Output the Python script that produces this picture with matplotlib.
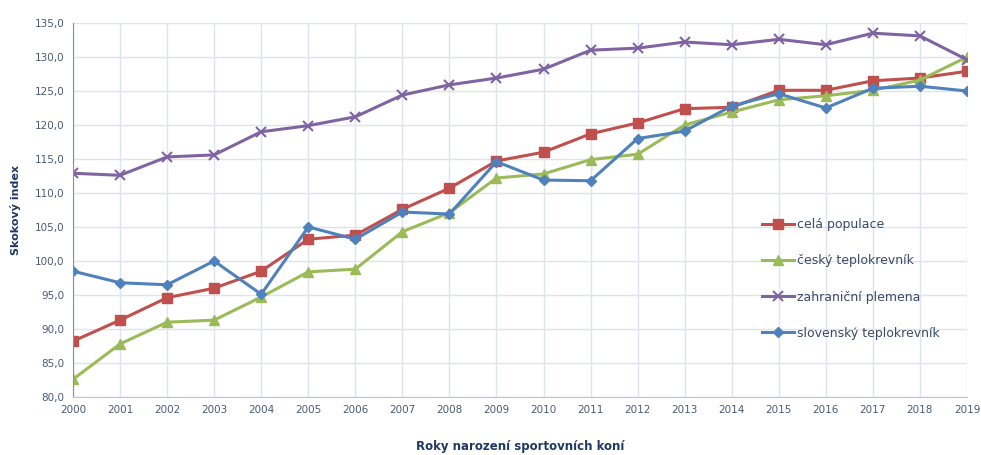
import numpy as np
import matplotlib.pyplot as plt
from matplotlib.ticker import FuncFormatter

# Data
years = list(range(2000, 2020))
cela_populace = [88.2, 91.3, 94.6, 96.0, 98.5, 103.2, 103.8, 107.6, 110.7, 114.7,
                 116.0, 118.7, 120.3, 122.4, 122.6, 125.1, 125.1, 126.5, 126.9, 127.9]
cesky_tk = [82.6, 87.8, 91.0, 91.3, 94.7, 98.4, 98.8, 104.3, 107.1, 112.2,
            112.8, 114.9, 115.7, 120.0, 121.9, 123.7, 124.3, 125.1, 126.6, 130.0]
zahranicni = [112.9, 112.6, 115.3, 115.6, 119.0, 119.9, 121.2, 124.4, 125.9, 126.9,
              128.2, 131.0, 131.3, 132.2, 131.8, 132.6, 131.8, 133.5, 133.1, 129.6]
slovensky_tk = [98.5, 96.8, 96.5, 100.0, 95.1, 105.0, 103.2, 107.2, 106.9, 114.6,
                111.9, 111.8, 118.0, 119.1, 122.8, 124.6, 122.5, 125.4, 125.7, 125.0]

labels = ["celá populace", "český teplokrevník", "zahraniční plemena", "slovenský teplokrevník"]

fig = plt.figure(figsize=(9.81, 4.55), dpi=100)
ax = fig.add_axes([0.0744, 0.1275, 0.9113, 0.822])

ax.plot(years, cela_populace, color='#C0504D', lw=2.2, marker='s', ms=7, label=labels[0])
ax.plot(years, cesky_tk, color='#9BBB59', lw=2.2, marker='^', ms=7, label=labels[1])
ax.plot(years, zahranicni, color='#8064A2', lw=2.2, marker='x', ms=7, mew=1.5, label=labels[2])
ax.plot(years, slovensky_tk, color='#4F81BD', lw=2.2, marker='D', ms=5.5, label=labels[3])

ax.set_xlim(2000, 2019)
ax.set_ylim(80, 135)
ax.set_xticks(years)
ax.set_yticks(np.arange(80, 136, 5))
ax.yaxis.set_major_formatter(FuncFormatter(lambda v, p: f"{v:.1f}".replace('.', ',')))

ax.grid(True, color='#dde4ef', lw=1)
ax.set_axisbelow(True)
for s in ['top', 'right']:
    ax.spines[s].set_visible(False)
ax.spines['left'].set_color('#6f93c4')
ax.spines['bottom'].set_color('#b8c7de')
ax.tick_params(length=0, labelsize=7.5, labelcolor='#4a5a78', pad=6)

ax.set_ylabel("Skokový index", fontsize=8, fontweight='bold', color='#1f3864', labelpad=10)
ax.set_xlabel("Roky narození sportovních koní", fontsize=8.5, fontweight='bold', color='#1f3864', labelpad=18)

leg = ax.legend(loc='upper left', bbox_to_anchor=(0.765, 0.545), bbox_transform=fig.transFigure,
                frameon=False, fontsize=9, labelspacing=1.85, handlelength=2.6, handletextpad=0.2)
for t in leg.get_texts():
    t.set_color('#3b4a66')

fig.savefig('out.png', dpi=100)
